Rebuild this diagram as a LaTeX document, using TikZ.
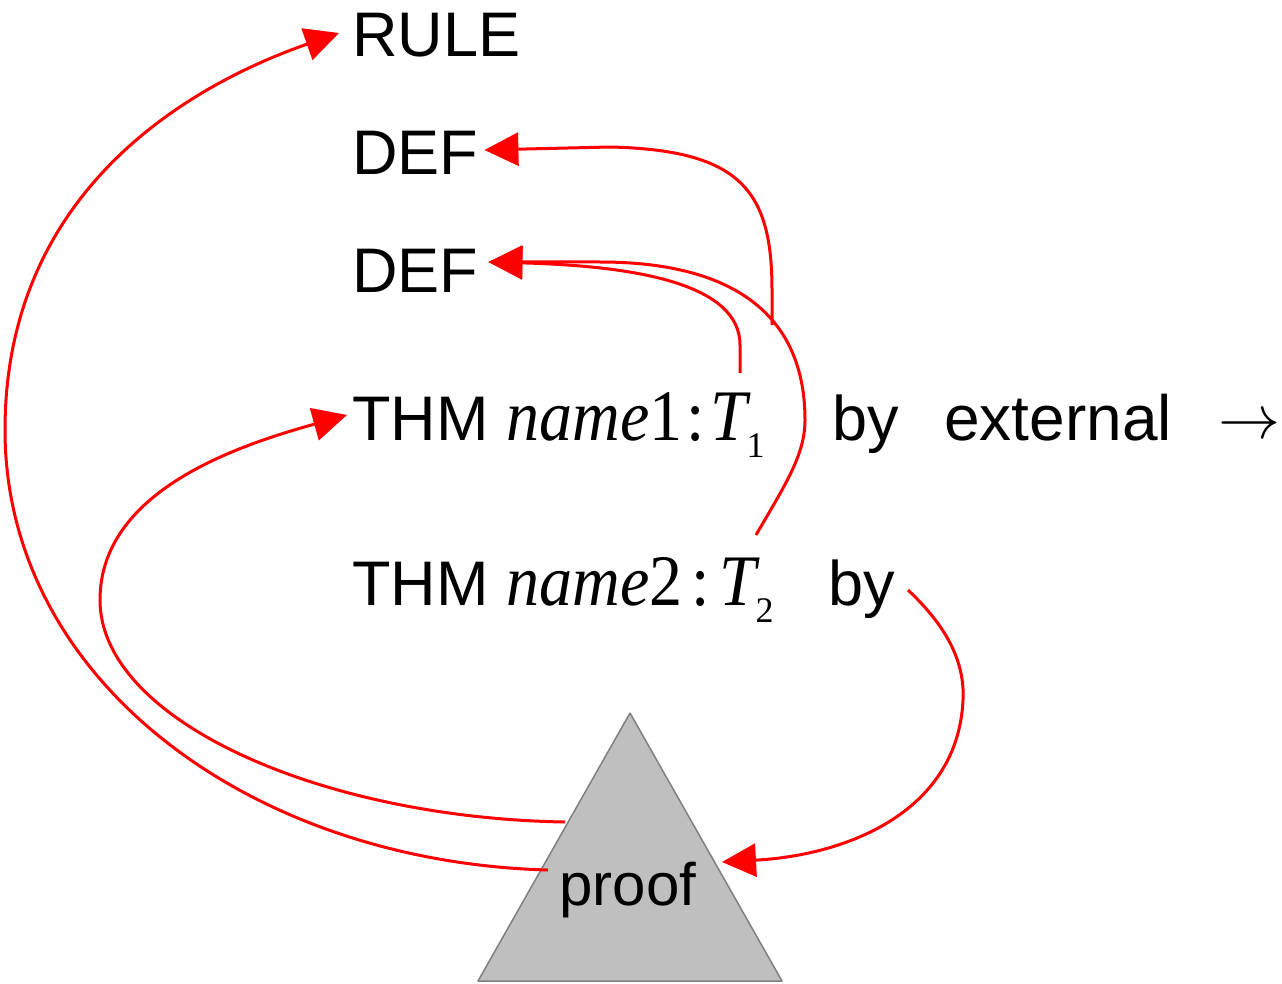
\documentclass[tikz,border=0pt]{standalone}
\usepackage{fontspec}
\usepackage{graphicx}
\setmainfont{Liberation Sans}
\newfontfamily\tmsfont{Liberation Serif}
\usetikzlibrary{arrows.meta}
\definecolor{trifill}{HTML}{BFBFBF}
\definecolor{triline}{HTML}{808080}
\begin{document}
\begin{tikzpicture}[x=1pt,y=-1pt,
  lbl/.style={anchor=base west, inner sep=0pt, font=\fontsize{63}{70}\selectfont},
  link/.style={draw=red, line width=3pt},
  tipped/.style={link, -{Triangle[length=34pt,width=33pt]}}]
\useasboundingbox (0,0) rectangle (1282,984);
% proof triangle
\draw[fill=trifill, draw=triline, line width=1.5pt, line join=round]
  (630,713) -- (782,981) -- (478,981) -- cycle;
\node[anchor=base, inner sep=0pt, font=\fontsize{60}{66}\selectfont] (proof) at (628,905) {proof};
\coordinate (prfA) at (548,870);
\coordinate (prfB) at (565,822);
\coordinate (prfR) at (722,862);
% labels
\node[lbl] (rule) at (352,57) {RULE};
\node[lbl] (def1) at (352,175) {DEF};
\node[lbl] (def2) at (352,293) {DEF};
\node[lbl] (thm1) at (352,440) {THM\hspace{18pt}{\tmsfont\fontsize{66}{70}\selectfont\scalebox{1}[1.1]{\itshape name}\scalebox{1}[1.1]{1}\hspace{4pt}\scalebox{1}[1.1]{:}\hspace{6pt}\scalebox{1}[1.1]{\itshape T}\hspace{-1pt}\raisebox{-17pt}{\fontsize{36}{40}\selectfont 1}}};
\node[lbl] (by1) at (832,440) {by};
\node[lbl, font=\fontsize{64}{70}\selectfont] (ext) at (944,440) {external};
\node[lbl, font=\fontsize{10}{12}\selectfont] (arr) at (1218,438) {\scalebox{6.2}{$\rightarrow$}};
\node[lbl] (thm2) at (352,605) {THM\hspace{18pt}{\tmsfont\fontsize{66}{70}\selectfont\scalebox{1}[1.1]{\itshape name}\scalebox{1}[1.1]{2}\hspace{9pt}\scalebox{1}[1.1]{:}\hspace{10pt}\scalebox{1}[1.1]{\itshape T}\hspace{-1pt}\raisebox{-17pt}{\fontsize{36}{40}\selectfont 2}}};
\node[lbl] (by2) at (828,605) {by};
% connector start points
\coordinate (tOne) at (740,373);
\coordinate (tTwo) at (756,535);
\coordinate (dSrc) at (772,325);
\coordinate (bySrc) at (908,590);
% connectors
\draw[tipped] (prfA) .. controls (250,862) and (5,680) .. (5,430)
  .. controls (5,190) and (190,85) .. ([xshift=-13pt,yshift=24pt]rule.base west);
\draw[tipped] (prfB) .. controls (320,818) and (100,720) .. (100,600)
  .. controls (100,490) and (240,445) .. ([xshift=-5pt,yshift=25pt]thm1.base west);
\draw[tipped] (tOne) -- (740,345) .. controls (740,285) and (640,266) .. ([xshift=10pt,yshift=31pt]def2.base east);
\draw[tipped] (tTwo) .. controls (785,485) and (805,455) .. (805,420)
  .. controls (805,320) and (740,262) .. (600,262) -- ([xshift=10pt,yshift=31pt]def2.base east);
\draw[tipped] (dSrc) -- (772,290) .. controls (772,190) and (740,150) .. (610,147) -- ([xshift=6pt,yshift=25pt]def1.base east);
\draw[tipped] (bySrc) .. controls (945,625) and (965,660) .. (963,700)
  .. controls (958,810) and (850,855) .. (prfR);
\end{tikzpicture}
\end{document}
